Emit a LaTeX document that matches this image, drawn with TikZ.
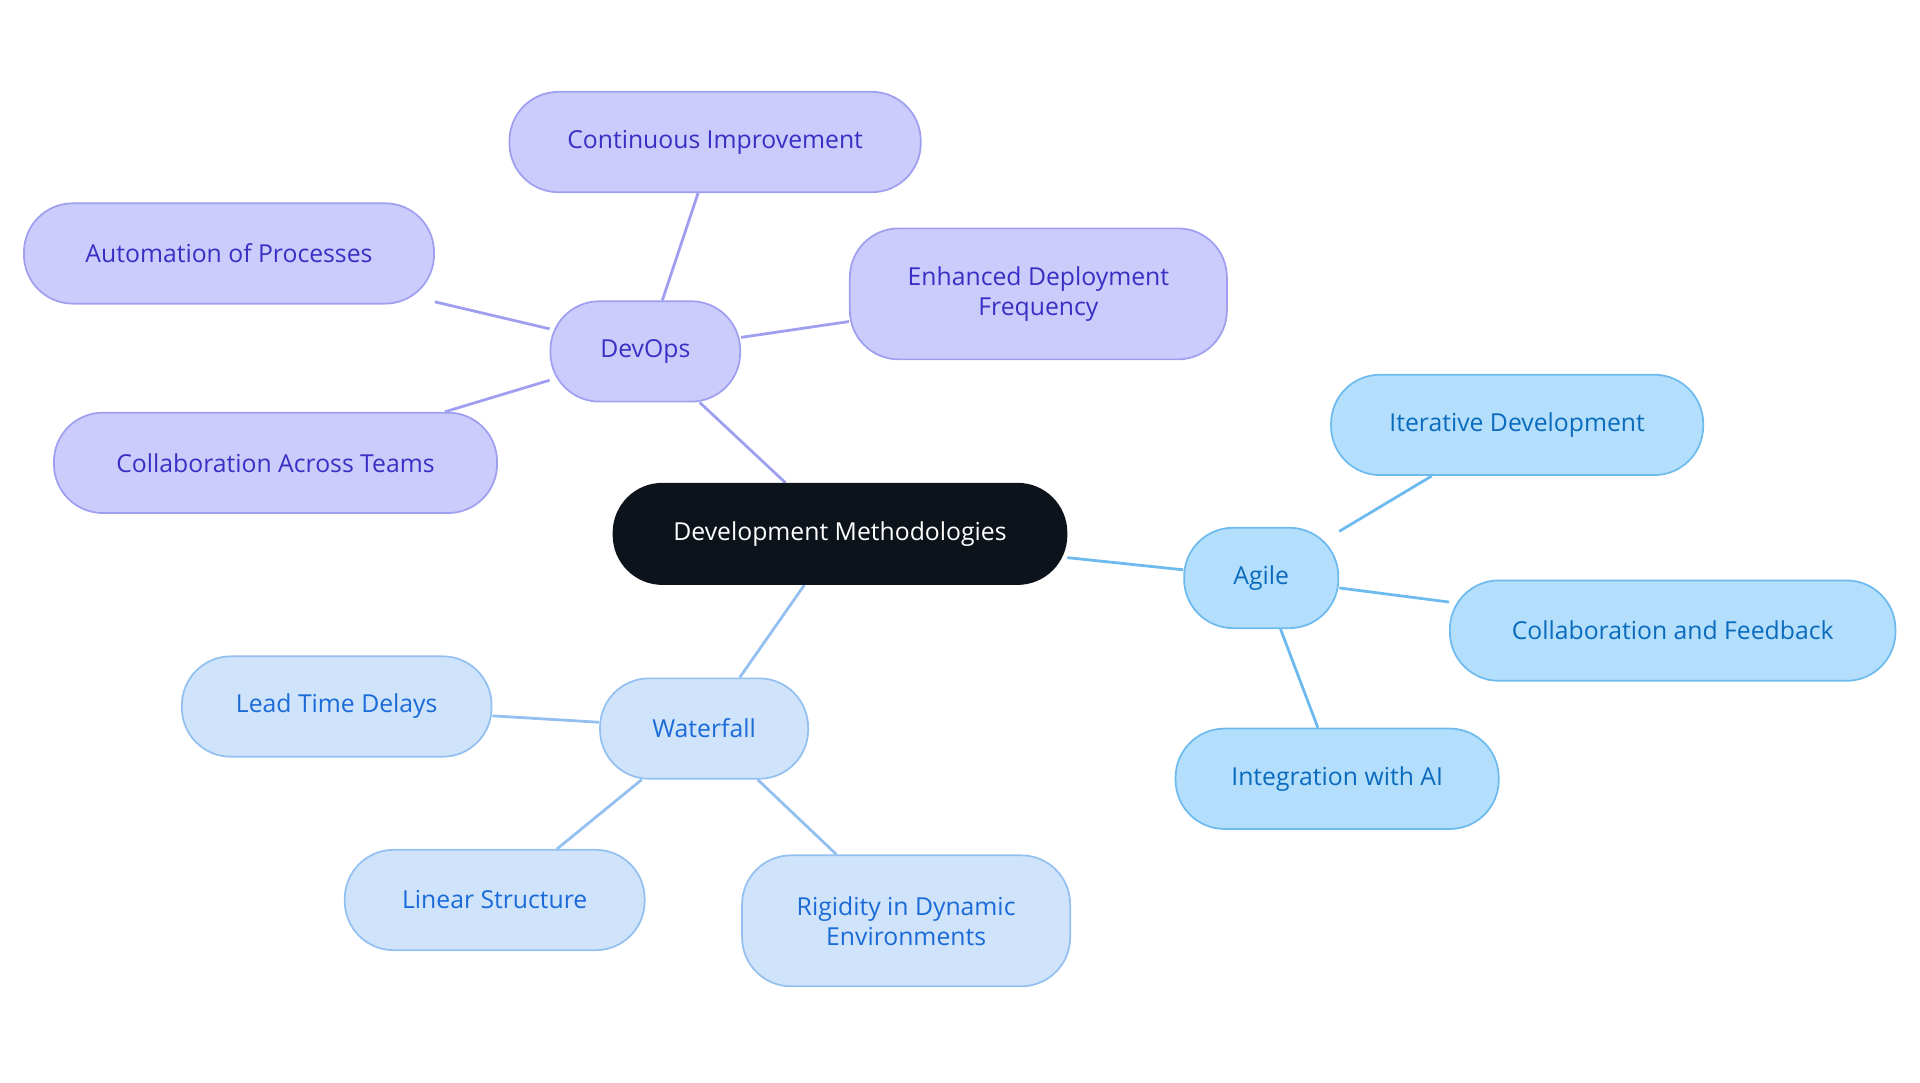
\documentclass[tikz,border=0pt]{standalone}
\usepackage{fontspec}
\setmainfont{Open Sans}
\usetikzlibrary{backgrounds}
\definecolor{rootfill}{HTML}{0D131B}
\definecolor{devfill}{HTML}{CBCBFC}
\definecolor{devline}{HTML}{9F9FF0}
\definecolor{devtext}{HTML}{3A2FC4}
\definecolor{agifill}{HTML}{B3DEFC}
\definecolor{agiline}{HTML}{6DBBEE}
\definecolor{agitext}{HTML}{0A6BBD}
\definecolor{watfill}{HTML}{CFE3FB}
\definecolor{watline}{HTML}{93C0F0}
\definecolor{wattext}{HTML}{1A6AD8}

\begin{document}
\begin{tikzpicture}[x=0.02cm,y=-0.02cm,
  every node/.style={font=\fontsize{11.5}{14}\selectfont,align=center,inner sep=0pt},
  pill/.style={rounded corners=0.8cm,draw,line width=0.8pt,minimum height=1.64cm},
  root/.style={pill,fill=rootfill,draw=rootfill,text=white},
  devbox/.style={pill,fill=devfill,draw=devline,text=devtext},
  agibox/.style={pill,fill=agifill,draw=agiline,text=agitext},
  watbox/.style={pill,fill=watfill,draw=watline,text=wattext},
  link/.style={line width=1.3pt}]
\useasboundingbox (0,0) rectangle (1568,884);
% center
\node[root,minimum width=7.4cm] (dm) at (686,436) {Development Methodologies};
% devops branch
\node[devbox,minimum width=3.1cm] (devops) at (527,287) {DevOps};
\node[devbox,minimum width=6.72cm] (ci) at (584,116) {Continuous Improvement};
\node[devbox,minimum width=6.7cm] (ap) at (187,207) {Automation of Processes};
\node[devbox,minimum width=6.16cm,minimum height=2.14cm] (edf) at (848,240) {Enhanced Deployment\\Frequency};
\node[devbox,minimum width=7.24cm] (cat) at (225,378) {Collaboration Across Teams};
% agile branch
\node[agibox,minimum width=2.52cm] (agile) at (1030,472) {Agile};
\node[agibox,minimum width=6.08cm] (itd) at (1239,347) {Iterative Development};
\node[agibox,minimum width=7.28cm] (caf) at (1366,515) {Collaboration and Feedback};
\node[agibox,minimum width=5.28cm] (iwa) at (1092,636) {Integration with AI};
% waterfall branch
\node[watbox,minimum width=3.4cm] (wf) at (575,595) {Waterfall};
\node[watbox,minimum width=5.06cm] (ltd) at (275,577) {Lead Time Delays};
\node[watbox,minimum width=4.9cm] (ls) at (404,735) {Linear Structure};
\node[watbox,minimum width=5.36cm,minimum height=2.14cm] (rde) at (740,752) {Rigidity in Dynamic\\Environments};
\begin{scope}[on background layer]
\draw[link,devline] (dm) -- (devops);
\foreach \n in {ci,ap,edf,cat} \draw[link,devline] (devops) -- (\n);
\draw[link,agiline] (dm) -- (agile);
\foreach \n in {itd,caf,iwa} \draw[link,agiline] (agile) -- (\n);
\draw[link,watline] (dm) -- (wf);
\foreach \n in {ltd,ls,rde} \draw[link,watline] (wf) -- (\n);
\end{scope}
\end{tikzpicture}
\end{document}
